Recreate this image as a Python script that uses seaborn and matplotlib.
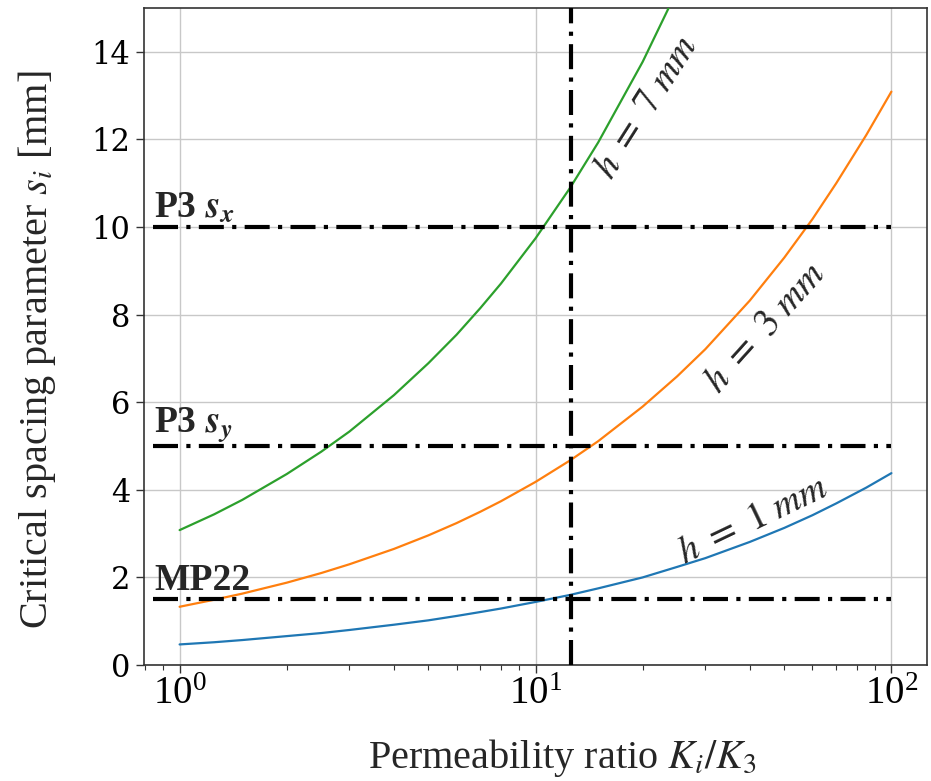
import numpy as np
import pandas as pd
import matplotlib
matplotlib.use("Agg")
import matplotlib.pyplot as plt
import seaborn as sns

# ---- data ----
K_ratio = [1, 1.25, 1.5, 2, 2.5, 3, 4, 5, 6, 7, 8, 10, 12.5, 15, 20, 25, 30, 40, 50, 60, 70, 85, 100]
s_h1 = [0.47, 0.52, 0.57, 0.66, 0.73, 0.80, 0.92, 1.02, 1.12, 1.21, 1.29, 1.44, 1.60, 1.75,
        2.00, 2.24, 2.44, 2.81, 3.13, 3.42, 3.69, 4.05, 4.38]
s_h3 = [1.33, 1.49, 1.63, 1.88, 2.10, 2.30, 2.65, 2.96, 3.24, 3.50, 3.74, 4.18, 4.67, 5.11,
        5.90, 6.59, 7.21, 8.32, 9.30, 10.18, 11.00, 12.10, 13.09]
s_h7 = [3.08, 3.44, 3.77, 4.36, 4.87, 5.33, 6.16, 6.89, 7.54, 8.15, 8.71, 9.74, 10.89, 11.93,
        13.77, 15.40, 16.87, 19.48, 21.80, 23.86, 25.80, 28.40, 30.80]
series_names = ["h1", "h3", "h7"]
series_colors = ["#1f77b4", "#ff7f0e", "#2ca02c"]

limit_values = [10, 5, 1.5]
limit_labels = [r"P3 $\mathbfit{s}_{\mathbfit{x}}$", r"P3 $\mathbfit{s}_{\mathbfit{y}}$", "MP22"]
limit_x_range = [0.84, 100]
k_marker = 12.6

curve_labels = [r"$h\ =\ 1\ mm$", r"$h\ =\ 3\ mm$", r"$h\ =\ 7\ mm$"]
curve_label_pos = [(41.0, 3.30), (44.2, 7.69), (20.6, 12.74)]
curve_label_rot = [25.5, 48, 57.5]

yticks = [0, 2, 4, 6, 8, 10, 12, 14]

df = pd.DataFrame({
    "K": K_ratio * 3,
    "s": s_h1 + s_h3 + s_h7,
    "h": [series_names[0]] * len(K_ratio) + [series_names[1]] * len(K_ratio) + [series_names[2]] * len(K_ratio),
})

sns.set_style("ticks")
plt.rcParams["mathtext.fontset"] = "stix"
plt.rcParams["font.family"] = ["Liberation Serif", "DejaVu Serif"]

fig = plt.figure(figsize=(9.31, 7.81), dpi=100)
ax = fig.add_axes([0.1547, 0.1485, 0.8410, 0.8413])

sns.lineplot(data=df, x="K", y="s", hue="h", palette=series_colors, legend=False,
             linewidth=1.6, ax=ax, zorder=3)

ax.set_xscale("log")
ax.set_xlim(10 ** -0.1, 10 ** 2.1)
ax.set_ylim(0, 15)
ax.set_yticks(yticks)

ax.grid(True, which="major", color="#c8c8c8", linewidth=1.0)
ax.set_axisbelow(True)

for v in limit_values:
    ax.hlines(v, limit_x_range[0], limit_x_range[1], colors="black",
              linestyles=(0, (6, 2, 1, 2)), linewidth=3, zorder=4)
ax.axvline(k_marker, color="black", linestyle=(0, (6, 2, 1, 2)), linewidth=3, zorder=4)

for v, lab in zip(limit_values, limit_labels):
    ax.text(0.85, v + 0.04, lab, fontsize=27, fontweight="bold",
            family="Liberation Serif", ha="left", va="bottom", zorder=5)

for lab, (x, y), r in zip(curve_labels, curve_label_pos, curve_label_rot):
    ax.text(x, y, lab, fontsize=28, rotation=r, rotation_mode="anchor",
            ha="center", va="center", zorder=5)

for sp in ax.spines.values():
    sp.set_visible(True)
    sp.set_color("#333333")
    sp.set_linewidth(1.2)

ax.tick_params(axis="both", which="major", direction="out", length=6, width=1.0,
               colors="#333333", labelcolor="black")
ax.tick_params(axis="x", which="minor", direction="out", length=3.5, width=0.8, colors="#333333")
ax.tick_params(axis="x", labelsize=28, pad=2)
ax.tick_params(axis="y", labelsize=22, pad=4)
for t in ax.get_yticklabels():
    t.set_family("DejaVu Serif")

ax.set_xlabel(r"Permeability ratio $K_i/K_3$", fontsize=29)
ax.set_ylabel(r"Critical spacing parameter $s_i$ [mm]", fontsize=29)
ax.xaxis.set_label_coords(0.534, -0.11)
ax.yaxis.set_label_coords(-0.11, 0.48)

fig.savefig("out.png", dpi=100)
